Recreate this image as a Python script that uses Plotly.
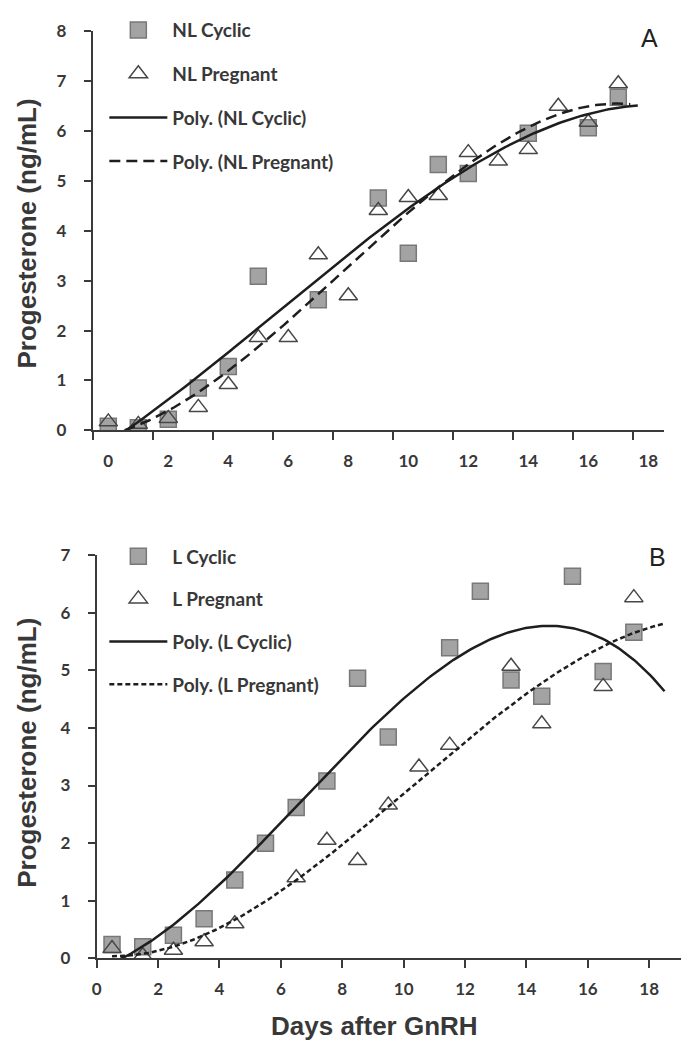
import numpy as np
import plotly.graph_objects as go

# ---------------- data ----------------
# Panel A (non-lactating)
nl_cyc_day = [0, 1, 2, 3, 4, 5, 7, 9, 10, 11, 12, 14, 16, 17]
nl_cyc_p4 = [0.08, 0.05, 0.22, 0.85, 1.28, 3.09, 2.62, 4.66, 3.55, 5.33, 5.15, 5.96, 6.07, 6.68]
nl_preg_day = [0, 1, 2, 3, 4, 5, 6, 7, 8, 9, 10, 11, 12, 13, 14, 15, 16, 17]
nl_preg_p4 = [0.17, 0.12, 0.24, 0.46, 0.92, 1.86, 1.86, 3.52, 2.70, 4.41, 4.67, 4.71,
              5.57, 5.40, 5.63, 6.50, 6.18, 6.95]

# Panel B (lactating)
l_cyc_day = [0.5, 1.5, 2.5, 3.5, 4.5, 5.5, 6.5, 7.5, 8.5, 9.5, 11.5, 12.5, 13.5, 14.5, 15.5, 16.5, 17.5]
l_cyc_p4 = [0.24, 0.20, 0.40, 0.69, 1.36, 2.00, 2.62, 3.08, 4.86, 3.84, 5.39, 6.37,
            4.83, 4.55, 6.63, 4.98, 5.66]
l_preg_day = [0.5, 1.5, 2.5, 3.5, 4.5, 6.5, 7.5, 8.5, 9.5, 10.5, 11.5, 13.5, 14.5, 16.5, 17.5]
l_preg_p4 = [0.17, 0.05, 0.14, 0.29, 0.60, 1.40, 2.05, 1.70, 2.66, 3.32, 3.70, 5.07,
             4.07, 4.72, 6.26]

x_ticks = [0, 2, 4, 6, 8, 10, 12, 14, 16, 18]
xA_minor_ticks = [-0.5, 1.5, 3.5, 5.5, 7.5, 9.5, 11.5, 13.5, 15.5, 17.5]
yA_ticks = [0, 1, 2, 3, 4, 5, 6, 7, 8]
yB_ticks = [0, 1, 2, 3, 4, 5, 6, 7]

POLY_ORDER = 3

# ---------------- geometry (page has an 8px body margin) ----------------
OFF = 8
W, H = 689 - OFF, 1051 - OFF


def xp(px):
    return (px - OFF) / W


def yp(py):
    return 1 - (py - OFF) / H


# ---------------- styles ----------------
TXT = "#383838"
AX = "#3a3a3a"
SQ = dict(symbol="square", size=16, color="#a3a3a3", line=dict(color="#787878", width=1.5))
TR = dict(symbol="triangle-up-open", size=16, color="#474747", line=dict(color="#474747", width=1.5))
LINE_C = "#1e1e1e"


def trend(xd, yd, x0, x1):
    c = np.polyfit(np.asarray(xd, float), np.asarray(yd, float), POLY_ORDER)
    xs = np.linspace(x0, x1, 200)
    return xs, np.polyval(c, xs)


fig = go.Figure()

# Panel A
fig.add_trace(go.Scatter(x=nl_cyc_day, y=nl_cyc_p4, mode="markers", marker=SQ,
                         name="NL Cyclic", legend="legend", legendgroup="a1",
                         xaxis="x", yaxis="y"))
fig.add_trace(go.Scatter(x=nl_preg_day, y=nl_preg_p4, mode="markers", marker=TR,
                         name="NL Pregnant", legend="legend", legendgroup="a2",
                         xaxis="x", yaxis="y"))
xs, ys = trend(nl_cyc_day, nl_cyc_p4, 0, 17.65)
fig.add_trace(go.Scatter(x=xs, y=ys, mode="lines", line=dict(color=LINE_C, width=2.5),
                         name="Poly. (NL Cyclic)", legend="legend", legendgroup="a3",
                         xaxis="x", yaxis="y"))
xs, ys = trend(nl_preg_day, nl_preg_p4, 0, 17.4)
fig.add_trace(go.Scatter(x=xs, y=ys, mode="lines",
                         line=dict(color=LINE_C, width=2.5, dash="11px,6px"),
                         name="Poly. (NL Pregnant)", legend="legend", legendgroup="a4",
                         xaxis="x", yaxis="y"))

# Panel B
fig.add_trace(go.Scatter(x=l_cyc_day, y=l_cyc_p4, mode="markers", marker=SQ,
                         name="L Cyclic", legend="legend2", legendgroup="b1",
                         xaxis="x2", yaxis="y2"))
fig.add_trace(go.Scatter(x=l_preg_day, y=l_preg_p4, mode="markers", marker=TR,
                         name="L Pregnant", legend="legend2", legendgroup="b2",
                         xaxis="x2", yaxis="y2"))
xs, ys = trend(l_cyc_day, l_cyc_p4, 0.5, 18.5)
fig.add_trace(go.Scatter(x=xs, y=ys, mode="lines", line=dict(color=LINE_C, width=2.5),
                         name="Poly. (L Cyclic)", legend="legend2", legendgroup="b3",
                         xaxis="x2", yaxis="y2"))
xs, ys = trend(l_preg_day, l_preg_p4, 0.5, 18.5)
fig.add_trace(go.Scatter(x=xs, y=ys, mode="lines",
                         line=dict(color=LINE_C, width=2.5, dash="5px,3px"),
                         name="Poly. (L Pregnant)", legend="legend2", legendgroup="b4",
                         xaxis="x2", yaxis="y2"))

tick_font = dict(family="Lato", size=17, color=TXT, weight="bold")
title_font = dict(family="Liberation Sans", size=26, color=TXT, weight="bold")
leg_font = dict(family="Lato", size=19, color=TXT, weight="bold")
letter_font = dict(family="Liberation Sans", size=25, color="#222222")

common_x = dict(showline=True, linecolor=AX, linewidth=2, showgrid=False, zeroline=False,
                tickmode="array", tickvals=x_ticks, tickfont=tick_font, ticklabelstandoff=6)
common_y = dict(showline=True, linecolor=AX, linewidth=2, showgrid=False, zeroline=False,
                tickmode="array", ticks="outside", ticklen=7, tickwidth=2, tickcolor=AX,
                tickfont=tick_font, ticklabelstandoff=14)


def label(text, x, y, font, angle=0):
    return dict(text=text, x=xp(x), y=yp(y), xref="paper", yref="paper", showarrow=False,
                xanchor="center", yanchor="middle", textangle=angle, font=font)


fig.update_layout(
    width=W, height=H,
    margin=dict(l=0, r=0, t=0, b=0),
    paper_bgcolor="white", plot_bgcolor="white",
    xaxis=dict(**common_x, domain=[xp(88.3), xp(664)], range=[-0.52, 18.53], anchor="y",
               ticks="outside", ticklen=8, tickcolor="rgba(0,0,0,0)",
               minor=dict(tickmode="array", tickvals=xA_minor_ticks,
                          ticks="outside", ticklen=8, tickwidth=2, tickcolor=AX)),
    yaxis=dict(**common_y, domain=[yp(427.8), yp(20.7)], range=[0, 8], anchor="x",
               tickvals=yA_ticks),
    xaxis2=dict(**common_x, domain=[xp(92.3), xp(686)], range=[0, 19.2], anchor="y2",
                ticks="outside", ticklen=8, tickwidth=2, tickcolor=AX),
    yaxis2=dict(**common_y, domain=[yp(966.7), yp(555)], range=[0, 7], anchor="x2",
                tickvals=yB_ticks),
    legend=dict(x=xp(100), y=yp(0), xanchor="left", yanchor="top", font=leg_font,
                bgcolor="rgba(0,0,0,0)", tracegroupgap=16, itemwidth=58),
    legend2=dict(x=xp(100), y=yp(537), xanchor="left", yanchor="top", font=leg_font,
                 bgcolor="rgba(0,0,0,0)", tracegroupgap=15, itemwidth=58),
    annotations=[
        label("A", 649, 27, letter_font),
        label("B", 657, 557, letter_font),
        label("Progesterone (ng/mL)", 22, 227, title_font, -90),
        label("Progesterone (ng/mL)", 22, 757, title_font, -90),
        label("Days after GnRH", 372, 1036, title_font),
    ],
    showlegend=True,
)

fig.write_html("out.html")
